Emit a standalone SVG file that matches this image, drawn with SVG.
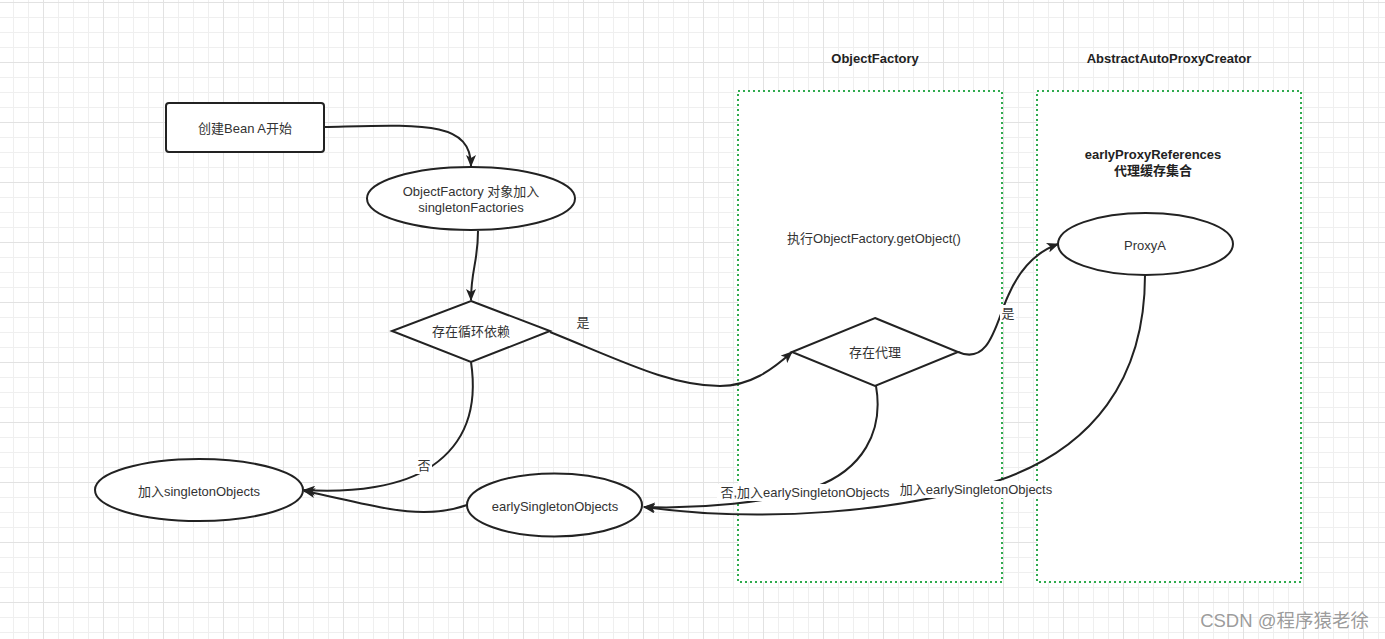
<svg xmlns="http://www.w3.org/2000/svg" width="1385" height="639" viewBox="0 0 1385 639">
<defs>
<pattern id="grid" patternUnits="userSpaceOnUse" x="43" y="2" width="60" height="60">
<path d="M15.5,0V60M30.5,0V60M45.5,0V60M0,15.5H60M0,30.5H60M0,45.5H60" stroke="#efefef" stroke-width="1" fill="none"/>
<path d="M0.5,0V60M0,0.5H60" stroke="#e2e2e2" stroke-width="1" fill="none"/>
</pattern>
<marker id="arr" viewBox="0 0 12 10" refX="11" refY="5" markerWidth="12" markerHeight="10" markerUnits="userSpaceOnUse" orient="auto">
<path d="M0,0 L12,5 L0,10 L3,5 z" fill="#222"/>
</marker>
<style>
.n{fill:#fff;stroke:#222;stroke-width:2}
.c{fill:none;stroke:#222;stroke-width:2;marker-end:url(#arr)}
.t{font-family:"Liberation Sans","Noto Sans CJK SC",sans-serif;font-size:13px;fill:#333;text-anchor:middle;dominant-baseline:central}
.b{font-weight:bold;fill:#222}
.lb{fill:#fff}
.ct{fill:#fff;stroke:#2fab4e;stroke-width:2;stroke-dasharray:2 3}
</style>
</defs>
<rect width="1385" height="639" fill="#fff"/>
<rect width="1385" height="639" fill="url(#grid)"/>

<g id="containers">
<g id="objectFactoryLane">
<rect class="ct" x="738" y="91" width="264" height="491"/>
<text class="t b" x="875" y="58">ObjectFactory</text>
</g>
<g id="proxyCreatorLane">
<rect class="ct" x="1037" y="91" width="264" height="491"/>
<text class="t b" x="1169" y="58">AbstractAutoProxyCreator</text>
</g>
</g>

<g id="start">
<rect class="n" x="166" y="103" width="158" height="49" rx="3"/>
<text class="t" x="245" y="128">创建Bean A开始</text>
</g>
<g id="addFactory">
<ellipse class="n" cx="471" cy="198.5" rx="104" ry="31.5"/>
<text class="t" x="471" y="191">ObjectFactory 对象加入</text>
<text class="t" x="471" y="207">singletonFactories</text>
</g>
<g id="circular">
<path class="n" d="M471,301 L550,331 L471,362 L392,331 Z"/>
<text class="t" x="471" y="331">存在循环依赖</text>
</g>
<g id="getObject">
<text class="t" x="874" y="238">执行ObjectFactory.getObject()</text>
</g>
<g id="hasProxy">
<path class="n" d="M875,318 L958,352 L875,386 L792,352 Z"/>
<text class="t" x="875" y="352">存在代理</text>
</g>
<g id="earlyProxyRefs">
<text class="t b" x="1153" y="154">earlyProxyReferences</text>
<text class="t b" x="1153" y="170">代理缓存集合</text>
</g>
<g id="proxyA">
<ellipse class="n" cx="1145.5" cy="244" rx="87.5" ry="31"/>
<text class="t" x="1145" y="245">ProxyA</text>
</g>
<g id="singletonObjects">
<ellipse class="n" cx="199" cy="490" rx="104" ry="31"/>
<text class="t" x="199" y="491">加入singletonObjects</text>
</g>
<g id="earlySingletonObjects">
<ellipse class="n" cx="554.5" cy="505" rx="87.5" ry="31.5"/>
<text class="t" x="555" y="506">earlySingletonObjects</text>
</g>

<g id="connectors">
<path class="c" d="M324,127 C420,125 471,120 471,166"/>
<path class="c" d="M478,231 C478,262 471,270 471,300"/>
<path class="c" d="M550,332 C620,360 670,386 720,386 C750,386 772,370 792,352"/>
<path class="c" d="M958,352 C990,366 996,322 1008,296 C1020,268 1036,252 1058,244"/>
<path class="c" d="M876,386 C884,432 862,470 815,487 C770,503 700,509 644,507"/>
<path class="c" d="M1145,275 C1145,380 1092,448 1000,480 C900,513 760,523 644,507"/>
<path class="c" d="M471,362 C477,402 470,440 432,466 C402,487 352,493 304,490"/>
<path class="c" d="M467,505 C445,513 420,514 390,509 C360,504 330,496 304,491"/>
<rect class="lb" x="1000" y="305" width="16" height="17"/>
<text class="t" x="1008" y="313">是</text>
<text class="t" x="583" y="322">是</text>
<rect class="lb" x="416" y="457" width="16" height="17"/>
<text class="t" x="424" y="465">否</text>
<rect class="lb" x="717" y="484" width="177" height="17"/>
<text class="t" x="805" y="492">否,加入earlySingletonObjects</text>
<rect class="lb" x="897" y="481" width="159" height="17"/>
<text class="t" x="976" y="489">加入earlySingletonObjects</text>
</g>
<text x="1369" y="620" font-family="'Liberation Sans','Noto Sans CJK SC',sans-serif" font-size="18.5" fill="#8f8f8f" fill-opacity="0.9" text-anchor="end" dominant-baseline="central">CSDN @程序猿老徐</text>
</svg>
